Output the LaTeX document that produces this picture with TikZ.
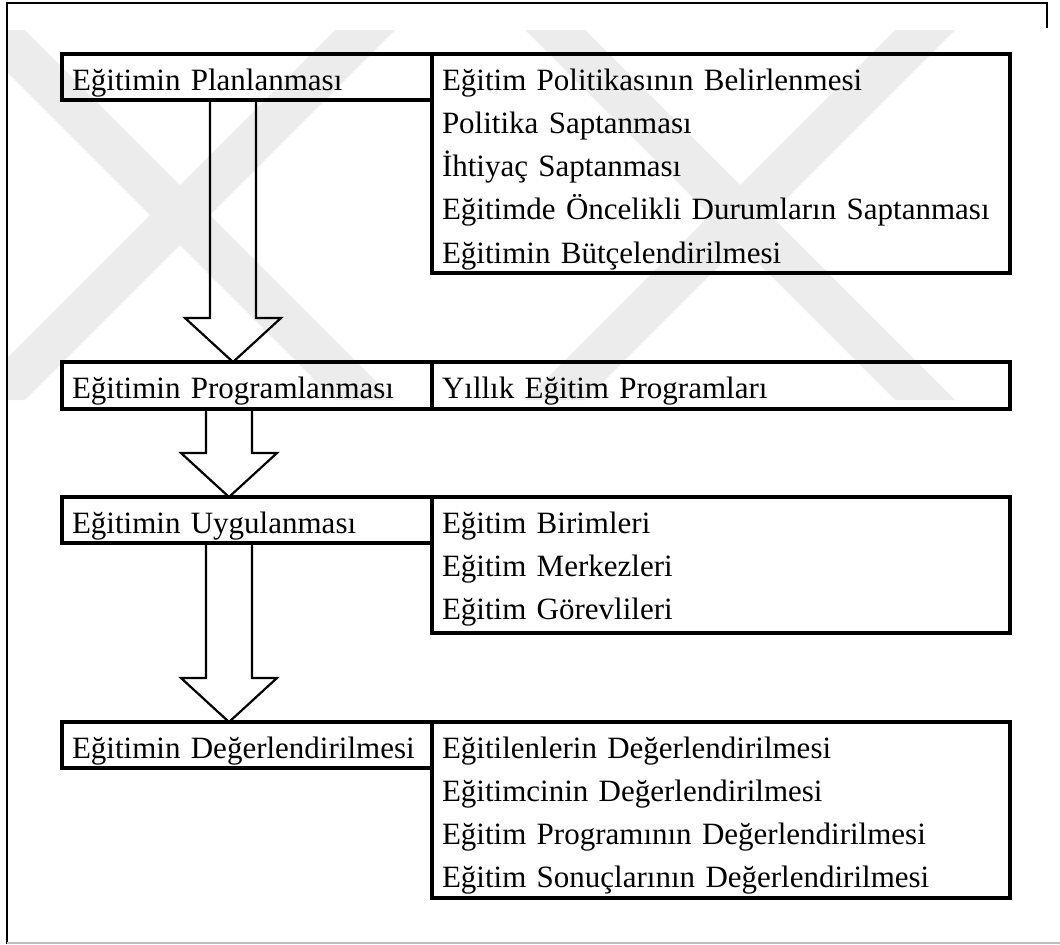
\documentclass[tikz,border=0pt]{standalone}
\usepackage{fontspec}
\setmainfont{Liberation Serif}
\usepackage{tikz}
\usetikzlibrary{calc}
\definecolor{framegrey}{RGB}{190,190,190}
\definecolor{markgrey}{RGB}{236,236,236}
\tikzset{
    stagebox/.style={
        draw,
        line width=1.7pt,
        outer sep=0pt,
        inner xsep=5pt,
        inner ysep=0pt,
        text width=175pt,
        align=left,
        text height=18pt,
        text depth=5pt,
        font=\fontsize{15.5}{21.65}\selectfont,
        anchor=north west
    },
    itembox/.style={
        draw,
        line width=1.7pt,
        outer sep=0pt,
        inner xsep=5pt,
        inner ysep=0pt,
        text width=279pt,
        align=left,
        text height=18pt,
        font=\fontsize{15.5}{21.65}\selectfont,
        anchor=north west
    },
    blockarrow/.style={draw, line width=1.1pt, line join=miter},
    watermark/.style={fill=markgrey, draw=none}
}
% hollow arrow from the bottom of #1 to the top of #2, #3 = centre from the west side
\newcommand{\downarrowbetween}[3]{%
  \draw[blockarrow]
    ($(#1.south west)+(#3-23,0)$) --
    ($(#2.north west)+(#3-23,-44)$) --
    ($(#2.north west)+(#3-48,-44)$) --
    ($(#2.north west)+(#3,0)$) --
    ($(#2.north west)+(#3+48,-44)$) --
    ($(#2.north west)+(#3+23,-44)$) --
    ($(#1.south west)+(#3+23,0)$);
}
\begin{document}
\begin{tikzpicture}[x=0.5pt, y=-0.5pt]

\useasboundingbox (0,0) rectangle (1060,944);

% watermark
\begin{scope}
\clip (7,3) rectangle (1060,943);
\fill[watermark] (-35,30) -- (25,30) -- (395,400) -- (335,400) -- cycle;
\fill[watermark] (335,30) -- (395,30) -- (25,400) -- (-35,400) -- cycle;
\fill[watermark] (525,30) -- (585,30) -- (955,400) -- (895,400) -- cycle;
\fill[watermark] (895,30) -- (955,30) -- (585,400) -- (525,400) -- cycle;
\end{scope}

% frame
\draw[line width=1.3pt] (7,944) -- (7,3) -- (1047,3) -- (1047,28);
\draw[framegrey, line width=1pt] (7,943) -- (1060,943);

% ------------------------------------------------------------
% Stages
% ------------------------------------------------------------

\node[stagebox] (plan) at (62,54)
{Eğitimin Planlanması};

\node[itembox, text depth=91.5pt] (planitems) at (plan.north east)
{Eğitim Politikasının Belirlenmesi\\
Politika Saptanması\\
İhtiyaç Saptanması\\
Eğitimde Öncelikli Durumların Saptanması\\
Eğitimin Bütçelendirilmesi};

\node[stagebox, text depth=5.5pt] (program) at (62,362)
{Eğitimin Programlanması};

\node[itembox, text depth=5.5pt] (programitems) at (program.north east)
{Yıllık Eğitim Programları};

\node[stagebox] (apply) at (62,497)
{Eğitimin Uygulanması};

\node[itembox, text depth=50pt] (applyitems) at (apply.north east)
{Eğitim Birimleri\\
Eğitim Merkezleri\\
Eğitim Görevlileri};

\node[stagebox] (evaluate) at (62,722)
{Eğitimin Değerlendirilmesi};

\node[itembox, text depth=70pt] (evaluateitems) at (evaluate.north east)
{Eğitilenlerin Değerlendirilmesi\\
Eğitimcinin Değerlendirilmesi\\
Eğitim Programının Değerlendirilmesi\\
Eğitim Sonuçlarının Değerlendirilmesi};

% ------------------------------------------------------------
% Arrows
% ------------------------------------------------------------

\downarrowbetween{plan}{program}{171}
\downarrowbetween{program}{apply}{167}
\downarrowbetween{apply}{evaluate}{167}

\end{tikzpicture}
\end{document}
